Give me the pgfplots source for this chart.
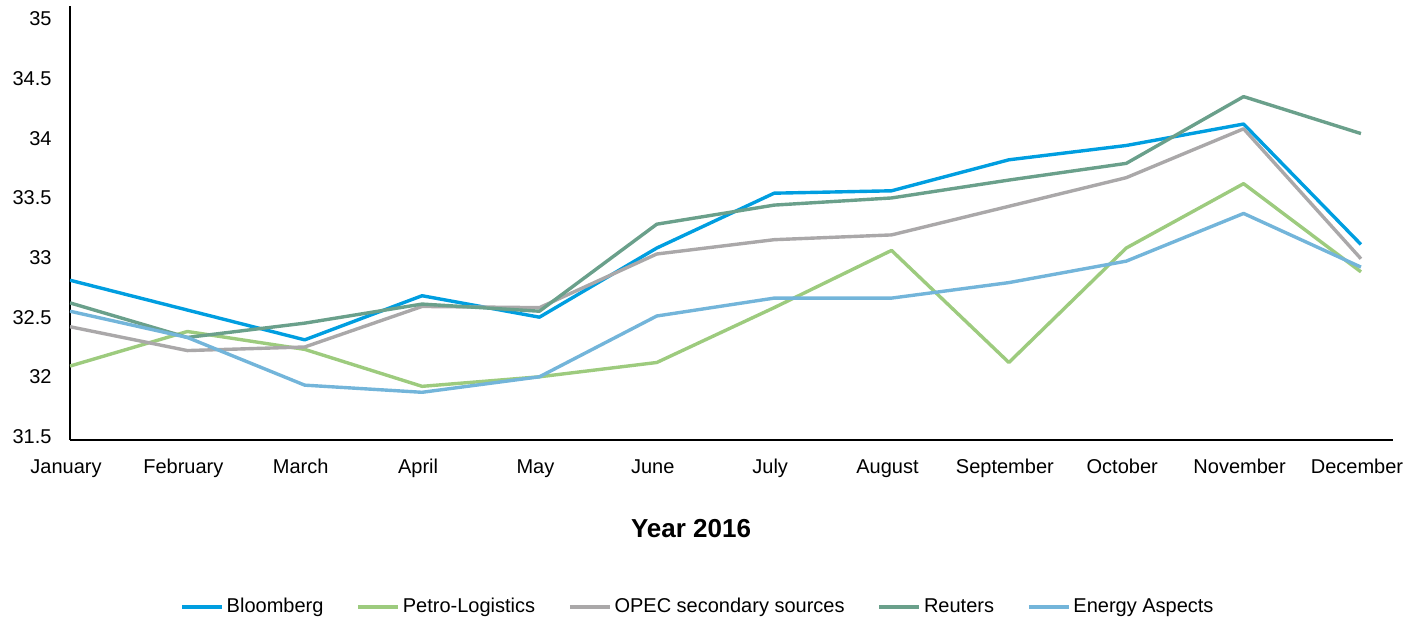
\documentclass[border=0pt]{standalone}
\usepackage{fontspec}
\setmainfont{Liberation Sans}
\usepackage{pgfplots}
\pgfplotsset{compat=1.18}
\definecolor{bloomberg}{RGB}{0,158,224}
\definecolor{petro}{RGB}{157,203,126}
\definecolor{opec}{RGB}{170,168,169}
\definecolor{reuters}{RGB}{106,160,139}
\definecolor{energy}{RGB}{115,181,218}
\begin{document}
\begin{tikzpicture}
\path[use as bounding box] (0,0) rectangle (710.5pt,310pt);
\begin{axis}[
  at={(35pt,90pt)}, anchor=south west,
  scale only axis, width=661.5pt, height=217pt,
  xmin=0, xmax=11.273, ymin=31.47, ymax=35.11,
  axis x line*=bottom, axis y line*=left,
  axis line style={-, line width=0.75pt},
  xtick={0,1,2,3,4,5,6,7,8,9,10,11},
  xticklabels={January,February,March,April,May,June,July,August,September,October,November,December},
  ytick={31.5,32,32.5,33,33.5,34,34.5,35},
  major tick length=0pt,
  tick label style={font=\fontsize{10}{12}\selectfont},
  /pgf/number format/assume math mode=true,
  x tick label style={yshift=-6pt, xshift=-2pt, text height=7.4pt},
  y tick label style={xshift=-5.7pt},
  xlabel={Year 2016},
  xlabel style={at={(axis description cs:0.4694,-0.2051)}, anchor=center,
    font=\fontsize{13}{15}\selectfont\bfseries},
  every axis plot/.append style={line width=1.7pt, line join=round},
  legend columns=5,
  legend image code/.code={\draw[#1] (0pt,0pt) -- (20pt,0pt);},
  legend style={draw=none, fill=none, at={(axis description cs:0.475,-0.385)}, anchor=center,
    font=\fontsize{10}{12}\selectfont, nodes={inner sep=1.5pt},
    /tikz/every even column/.append style={column sep=15pt}},
]
\addplot[bloomberg] coordinates {
  (0,32.81) (1,32.56) (2,32.31) (3,32.68) (4,32.50) (5,33.08)
  (6,33.54) (7,33.56) (8,33.82) (9,33.94) (10,34.12) (11,33.11)
};
\addlegendentry{Bloomberg}
\addplot[petro] coordinates {
  (0,32.09) (1,32.38) (2,32.23) (3,31.92) (4,32.00) (5,32.12)
  (6,32.58) (7,33.06) (8,32.12) (9,33.08) (10,33.62) (11,32.88)
};
\addlegendentry{Petro-Logistics}
\addplot[opec] coordinates {
  (0,32.42) (1,32.22) (2,32.25) (3,32.59) (4,32.58) (5,33.03)
  (6,33.15) (7,33.19) (8,33.43) (9,33.67) (10,34.08) (11,32.99)
};
\addlegendentry{OPEC secondary sources}
\addplot[reuters] coordinates {
  (0,32.62) (1,32.33) (2,32.45) (3,32.61) (4,32.55) (5,33.28)
  (6,33.44) (7,33.50) (8,33.65) (9,33.79) (10,34.35) (11,34.04)
};
\addlegendentry{Reuters}
\addplot[energy] coordinates {
  (0,32.55) (1,32.33) (2,31.93) (3,31.87) (4,32.00) (5,32.51)
  (6,32.66) (7,32.66) (8,32.79) (9,32.97) (10,33.37) (11,32.92)
};
\addlegendentry{Energy Aspects}
\end{axis}
\end{tikzpicture}
\end{document}
